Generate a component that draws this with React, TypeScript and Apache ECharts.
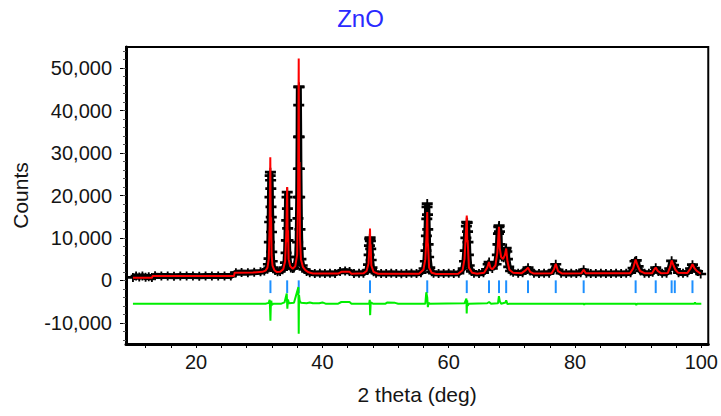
import React, { useEffect, useRef } from "react";
import * as echarts from "echarts";

// ---------- data ----------
const chartTitle = "ZnO";
const xName = "2 theta (deg)";
const yName = "Counts";

const xRange = [8.9, 101.1];
const yRange = [-15000, 55000];
const xLabelValues = [20, 40, 60, 80, 100];
const xTickValues = [12, 16, 20, 24, 28, 32, 36, 40, 44, 48, 52, 56, 60, 64, 68, 72, 76, 80, 84, 88, 92, 96, 100];
const yLabelValues = [-10000, 0, 10000, 20000, 30000, 40000, 50000];
const yMinorTickValues = [
  -14000, -12000, -10000, -8000, -6000, -4000, -2000, 0, 2000, 4000, 6000, 8000, 10000, 12000, 14000, 16000, 18000,
  20000, 22000, 24000, 26000, 28000, 30000, 32000, 34000, 36000, 38000, 40000, 42000, 44000, 46000, 48000, 50000,
  52000, 54000,
];

// observed counts [2theta, counts]
const observed: [number, number][] = [
  [10.0, 700], [10.5, 1000], [11.0, 800], [11.5, 1000], [12.0, 750], [12.5, 850], [13.0, 650],
  [13.5, 1100], [14.5, 1000], [15.5, 1050], [16.5, 950], [17.5, 1000], [18.5, 1050], [19.5, 1000],
  [20.5, 950], [21.5, 1050], [22.5, 1000], [23.5, 1000], [24.5, 1050], [25.5, 1000],
  [26.3, 1800], [27.2, 1850], [28.2, 1800], [29.2, 1900], [30.2, 2000], [30.8, 2200],
  [31.3, 2600], [31.45, 3800], [31.55, 5100], [31.6, 9000], [31.65, 13750], [31.7, 19600], [31.73, 24700],
  [31.77, 25500], [31.8, 23600], [31.83, 21600], [31.86, 17300], [31.9, 14900], [31.94, 11400], [31.98, 6700],
  [32.05, 4500], [32.2, 3000], [32.5, 2300], [32.9, 2000], [33.3, 2100], [33.7, 2500],
  [34.0, 3000], [34.15, 4200], [34.25, 6500], [34.3, 9400], [34.35, 14150], [34.4, 19600], [34.43, 20800],
  [34.46, 16900], [34.5, 12250], [34.55, 9400], [34.62, 5500], [34.75, 3800], [35.0, 2900], [35.3, 2800],
  [35.5, 2900], [35.8, 3800], [36.0, 5500], [36.08, 9000], [36.13, 14600], [36.17, 19600], [36.2, 26300],
  [36.23, 33800], [36.25, 41300], [36.27, 45600], [36.3, 45600], [36.33, 33800], [36.36, 26300], [36.4, 19600],
  [36.45, 12000], [36.52, 7500], [36.6, 5000], [36.8, 3500], [37.1, 2600], [37.5, 2100],
  [38.0, 1800], [38.8, 1600], [39.6, 1700], [40.4, 1600], [41.2, 1650], [42.0, 1600], [42.8, 2100],
  [43.6, 2200], [44.3, 2100], [45.0, 1600], [45.8, 1650], [46.5, 1700],
  [47.1, 2300], [47.3, 3700], [47.4, 6000], [47.45, 8200], [47.5, 9800], [47.55, 10100], [47.6, 9300],
  [47.65, 7400], [47.72, 4800], [47.85, 3000], [48.1, 2000], [48.5, 1700],
  [49.3, 1600], [50.1, 1600], [50.9, 1650], [51.7, 1600], [52.5, 1550], [53.3, 1600], [54.1, 1650],
  [54.9, 1600], [55.6, 1800],
  [56.1, 2800], [56.3, 4500], [56.4, 7000], [56.47, 10500], [56.53, 14500], [56.57, 17300], [56.6, 18100],
  [56.64, 15500], [56.68, 12000], [56.74, 8500], [56.82, 5500], [57.0, 3000], [57.3, 2000],
  [57.6, 1700], [58.4, 1600], [59.2, 1600], [60.0, 1650], [60.8, 1600], [61.6, 1700],
  [62.3, 2800], [62.5, 4500], [62.62, 7000], [62.72, 10000], [62.8, 12800], [62.86, 13750], [62.92, 13600],
  [62.98, 11500], [63.05, 9000], [63.12, 6000], [63.25, 3500], [63.6, 2100],
  [64.0, 1700], [64.8, 1600], [65.5, 1800],
  [66.0, 2600], [66.25, 3800], [66.4, 4300], [66.6, 3200], [66.9, 2800],
  [67.5, 3800], [67.7, 6000], [67.8, 8500], [67.88, 11000], [67.94, 12600], [67.98, 12900], [68.04, 11500],
  [68.1, 8500], [68.2, 6500], [68.4, 5500], [68.7, 5300], [68.9, 6500], [69.0, 7200], [69.1, 7600],
  [69.2, 6800], [69.3, 5000], [69.5, 3200], [69.8, 2200],
  [70.2, 1900], [71.0, 1700], [71.7, 1800], [72.2, 2300], [72.56, 3000], [72.9, 2200], [73.5, 1700],
  [74.3, 1600], [75.1, 1650], [75.9, 1700], [76.5, 2300], [76.95, 3800], [77.3, 2500], [77.8, 1700],
  [78.6, 1600], [79.4, 1650], [80.2, 1600], [80.9, 1800], [81.37, 2500], [81.8, 1700],
  [82.5, 1600], [83.3, 1600], [84.1, 1650], [84.9, 1600], [85.7, 1600], [86.5, 1650], [87.3, 1600],
  [88.1, 1650], [88.8, 1800], [89.2, 2900], [89.5, 4500], [89.7, 4700], [90.0, 3300], [90.4, 2200],
  [91.0, 1700], [91.7, 1650], [92.3, 1900], [92.78, 3000], [93.2, 2100], [93.8, 1700], [94.5, 1700],
  [95.0, 2800], [95.3, 4600], [95.6, 3600], [95.9, 2600], [96.4, 1800], [97.1, 1700], [97.8, 1800],
  [98.3, 2800], [98.6, 3700], [98.9, 2900], [99.4, 2100], [99.9, 1500],
];

// calculated profile [2theta, counts]
const calculated: [number, number][] = [
  [10.0, 600], [13.0, 600], [13.1, 1000], [26.0, 1000], [26.1, 1800], [29.0, 1850], [30.5, 2000],
  [31.0, 2300], [31.3, 3000], [31.5, 5000], [31.65, 13000], [31.75, 29000], [31.8, 17000], [31.83, 11000],
  [31.88, 14900], [31.95, 6000], [32.1, 3500], [32.4, 2400], [32.8, 1950], [33.3, 2000], [33.8, 2600],
  [34.1, 4500], [34.3, 12000], [34.42, 22000], [34.5, 10000], [34.52, 9000], [34.56, 11800], [34.65, 5000],
  [34.9, 3300], [35.3, 2750], [35.7, 3300], [36.0, 6000], [36.15, 20000], [36.25, 52300], [36.31, 22000],
  [36.34, 18000], [36.38, 27900], [36.45, 10000], [36.6, 5000], [36.9, 3200], [37.3, 2400], [37.8, 1900],
  [38.5, 1600], [42.5, 1600], [43.0, 2000], [44.3, 2000], [44.6, 1550], [46.5, 1650], [47.0, 2200],
  [47.3, 4000], [47.45, 8000], [47.54, 12200], [47.6, 7000], [47.64, 8500], [47.75, 3500], [48.1, 2000],
  [48.8, 1550], [55.3, 1550], [56.0, 2500], [56.3, 5000], [56.5, 11000], [56.6, 16100], [56.67, 9000],
  [56.72, 8500], [56.9, 3000], [57.3, 1800], [58.0, 1500], [61.5, 1550], [62.2, 2400], [62.5, 5000],
  [62.75, 12000], [62.86, 15300], [62.94, 9000], [63.0, 9500], [63.2, 3000], [63.7, 1800], [64.5, 1550],
  [65.6, 1800], [66.1, 3000], [66.38, 4300], [66.6, 3000], [66.9, 2600], [67.4, 3500], [67.7, 6500],
  [67.96, 12600], [68.1, 7500], [68.3, 5500], [68.6, 5000], [68.9, 6000], [69.1, 7500], [69.3, 4500],
  [69.6, 2500], [70.2, 1800], [71.5, 1650], [72.2, 2400], [72.56, 3000], [72.9, 2000], [73.5, 1600],
  [76.3, 1700], [76.7, 2700], [76.95, 3900], [77.3, 2200], [78.0, 1600], [81.0, 1650], [81.37, 2500],
  [81.7, 1650], [88.7, 1650], [89.2, 2800], [89.6, 4900], [89.9, 3500], [90.3, 2200], [91.0, 1700],
  [92.2, 1700], [92.6, 2700], [92.78, 3000], [93.1, 2200], [93.6, 1700], [94.7, 1750], [95.1, 3300],
  [95.3, 4700], [95.6, 3500], [95.9, 2500], [96.3, 1800], [97.8, 1750], [98.3, 2800], [98.6, 3800],
  [98.9, 2900], [99.3, 2200], [99.9, 1550],
];

// difference curve as plotted (observed - calculated, shifted down)
const difference: [number, number][] = [
  [10.0, -5500], [31.0, -5500], [31.5, -5300], [31.65, -4600], [31.72, -7000], [31.77, -9500], [31.82, -6500],
  [31.9, -4800], [32.0, -5800], [32.2, -5500], [33.5, -5500], [34.0, -5200], [34.35, -3100], [34.45, -6700],
  [34.55, -4500], [34.7, -5400], [35.5, -5300], [36.2, -1600], [36.25, -12600], [36.3, -3500], [36.4, -4800],
  [36.6, -5300], [37.5, -5400], [38.0, -5200], [38.5, -5400], [39.5, -5400], [40.0, -5200], [40.5, -5500],
  [42.5, -5500], [43.0, -5100], [44.3, -5100], [44.6, -5500], [47.4, -5500], [47.5, -4600], [47.56, -8200],
  [47.65, -5200], [48.0, -5500], [50.0, -5500], [50.3, -5200], [51.5, -5300], [52.0, -5500], [56.3, -5500],
  [56.45, -2800], [56.6, -4000], [56.7, -6300], [56.8, -5300], [57.0, -5500], [62.5, -5400], [62.8, -4300],
  [62.85, -7800], [62.92, -4700], [63.0, -6000], [63.2, -5500], [66.1, -5400], [66.4, -5100], [66.7, -5500],
  [67.8, -5400], [67.95, -3700], [68.1, -5000], [68.3, -5500], [69.0, -5200], [69.1, -4700], [69.3, -5600],
  [69.6, -5500], [81.4, -5500], [81.45, -5800], [81.5, -5500], [89.6, -5500], [89.7, -5800], [89.8, -5500],
  [98.9, -5500], [99.0, -5200], [99.1, -5500], [100.0, -5500],
];

// Bragg reflection positions
const braggPositions = [31.77, 34.42, 36.25, 47.54, 56.6, 62.86, 66.38, 67.96, 69.1, 72.56, 76.95, 81.37, 89.6, 92.78, 95.3, 95.8, 98.6];
const braggTickTop = 0;
const braggTickBottom = -3000;

// ---------- component ----------
const FONT = "Liberation Sans, Arial, sans-serif";
const TEXT = "#151515";

export default function App() {
  const ref = useRef<HTMLDivElement>(null);

  useEffect(() => {
    document.body.style.margin = "0";
    if (!ref.current) return;
    const chart = echarts.init(ref.current, null, { renderer: "svg" });

    const fmt = (v: number) => Number(v).toLocaleString("en-US");

    const option: any = {
      animation: false,
      backgroundColor: "#fff",
      title: {
        text: chartTitle,
        left: "center",
        top: 1,
        textStyle: { color: "#2a2aff", fontFamily: FONT, fontSize: 24, fontWeight: "normal" },
      },
      grid: {
        left: 126,
        right: 12,
        top: 47,
        bottom: 72,
        show: true,
        borderColor: "#000",
        borderWidth: 2,
        backgroundColor: "#fff",
      },
      xAxis: [
        {
          type: "value",
          min: xRange[0],
          max: xRange[1],
          name: xName,
          nameLocation: "middle",
          nameGap: 40,
          nameTextStyle: { color: TEXT, fontFamily: FONT, fontSize: 21 },
          axisLine: { show: true, onZero: false, lineStyle: { color: "#000", width: 3 } },
          axisTick: { show: true, length: 4, customValues: xTickValues, lineStyle: { color: "#000" } },
          axisLabel: { customValues: xLabelValues, color: TEXT, fontFamily: FONT, fontSize: 20, margin: 8 },
          splitLine: { show: false },
        },
      ],
      yAxis: [
        {
          type: "value",
          min: yRange[0],
          max: yRange[1],
          name: yName,
          nameLocation: "middle",
          nameGap: 95,
          nameTextStyle: { color: TEXT, fontFamily: FONT, fontSize: 21 },
          axisLine: { show: true, onZero: false, lineStyle: { color: "#000", width: 3 } },
          axisTick: { show: true, length: 6, customValues: yLabelValues, lineStyle: { color: "#000" } },
          axisLabel: { customValues: yLabelValues, formatter: fmt, color: TEXT, fontFamily: FONT, fontSize: 20, margin: 14 },
          splitLine: { show: false },
        },
        {
          type: "value",
          min: yRange[0],
          max: yRange[1],
          position: "left",
          axisLine: { show: false, onZero: false },
          axisTick: { show: true, length: 3, customValues: yMinorTickValues, lineStyle: { color: "#555" } },
          axisLabel: { show: false },
          splitLine: { show: false },
        },
      ],
      series: [
        {
          name: "Bragg",
          type: "custom",
          z: 1,
          data: braggPositions.map((p) => [p, braggTickTop, braggTickBottom]),
          encode: { x: 0, y: [1, 2] },
          renderItem: (params: any, api: any) => {
            const x = api.value(0);
            const p1 = api.coord([x, api.value(1)]);
            const p2 = api.coord([x, api.value(2)]);
            return {
              type: "line",
              shape: { x1: p1[0], y1: p1[1], x2: p2[0], y2: p2[1] },
              style: { stroke: "#1e90ff", lineWidth: 2 },
            };
          },
        },
        {
          name: "Difference",
          type: "line",
          z: 2,
          data: difference,
          showSymbol: false,
          symbol: "none",
          lineStyle: { color: "#00ee00", width: 2 },
        },
        {
          name: "Observed",
          type: "line",
          z: 3,
          data: observed,
          symbol: "path://M0,3.5H12V6.5H0ZM5,0H7V10H5Z",
          symbolSize: [11, 9],
          symbolKeepAspect: false,
          showSymbol: true,
          showAllSymbol: true,
          itemStyle: { color: "#000", borderWidth: 0 },
          lineStyle: { color: "#000", width: 6 },
        },
        {
          name: "Calculated",
          type: "line",
          z: 4,
          data: calculated,
          symbol: "none",
          lineStyle: { color: "#ff0000", width: 2 },
        },
      ],
    };

    chart.setOption(option);
    return () => chart.dispose();
  }, []);

  return <div ref={ref} style={{ width: 721, height: 416 }} />;
}
